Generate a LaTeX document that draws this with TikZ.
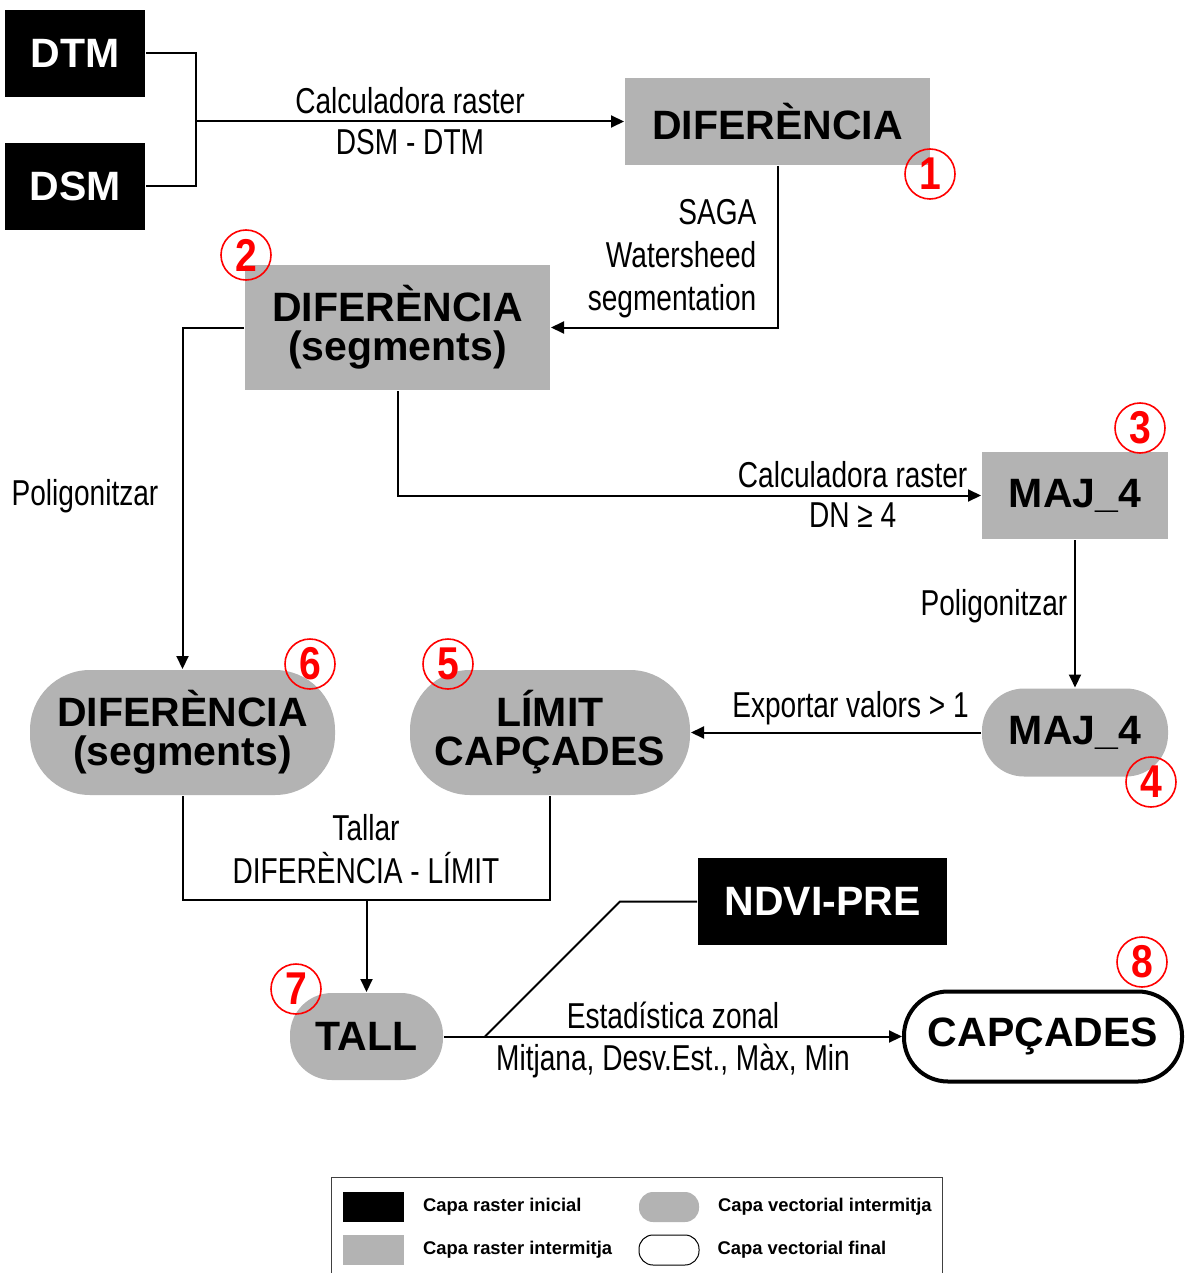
\documentclass[tikz,border=0pt]{standalone}
\usepackage{fontspec}
\setmainfont{Liberation Sans}
\newfontfamily\narrowfont[FakeStretch=0.78]{Liberation Sans}
\newfontfamily\numfont[FakeStretch=0.85]{Liberation Sans}
\usepackage{tikz}
\usetikzlibrary{positioning,calc,arrows.meta}
\definecolor{rastc}{HTML}{B3B3B3}
\definecolor{numc}{HTML}{FF0000}
\newcommand{\stepnum}[3]{%
  \node[draw=numc, line width=0.8pt, circle, minimum size=25pt, inner sep=0pt,
        text=numc, font=\numfont\bfseries\fontsize{23}{23}\selectfont] (n#1) at (#2,#3) {#1};}

\begin{document}
\begin{tikzpicture}[x=0.5pt, y=-0.5pt, line width=1pt,
  big/.style={font=\bfseries\fontsize{20.5}{19.5}\selectfont, align=center, inner sep=0pt},
  inic/.style={big, fill=black, text=white, minimum width=70pt, minimum height=43.5pt},
  mid/.style={big, fill=rastc, minimum height=43.5pt},
  lab/.style={font=\narrowfont\fontsize{18}{21.5}\selectfont},
  leg/.style={font=\bfseries\fontsize{9.2}{11}\selectfont, inner sep=0pt, anchor=west},
  arr/.style={-{Triangle[length=6.5pt,width=6pt]}}]
  \useasboundingbox (0,0) rectangle (1185,1273);
  % raster layers
  \node[inic] (dtm) at (75,53.5) {DTM};
  \node[inic] (dsm) at (75,186.5) {DSM};
  \node[mid, minimum width=152.5pt] (dif1) at (777.5,121.5) {DIFERÈNCIA};
  \node[mid, minimum width=152.5pt, minimum height=62.5pt] (dif2) at (397.5,327.5) {DIFERÈNCIA\\(segments)};
  \node[mid, minimum width=93pt] (maj3) at (1075,495.5) {MAJ\_4};
  \node[inic, minimum width=124.5pt] (ndvi) at (822.5,901.5) {NDVI-PRE};
  % vector layers
  \node[mid, minimum width=93pt, minimum height=44pt, rounded corners=21pt] (maj4) at (1075,732.5) {MAJ\_4};
  \node[mid, minimum width=140pt, minimum height=62.5pt, rounded corners=30pt] (lim5) at (550,732.5) {LÍMIT\\CAPÇADES};
  \node[mid, minimum width=152.5pt, minimum height=62.5pt, rounded corners=30pt] (dif6) at (182.5,732.5) {DIFERÈNCIA\\(segments)};
  \node[mid, minimum width=76.5pt, rounded corners=21pt] (tall7) at (366.5,1036.5) {TALL};
  \node[big, draw, line width=2pt, minimum width=139pt, minimum height=45pt, rounded corners=22pt] (capc8) at (1043,1036.5) {CAPÇADES};
  % steps
  \stepnum{1}{930}{174}
  \stepnum{2}{246}{255}
  \stepnum{3}{1140}{428}
  \stepnum{4}{1151}{782}
  \stepnum{5}{448}{664}
  \stepnum{6}{310}{664}
  \stepnum{7}{296}{989}
  \stepnum{8}{1142}{962}
  % connectors
  \coordinate (jn) at (196,121.5);
  \draw (dtm) -| (jn) |- (dsm);
  \draw[arr] (jn) -- (dif1) node[lab, midway, above] {Calculadora raster} node[lab, midway, below] {DSM - DTM};
  \draw[arr] (dif1) |- (dif2);
  \node[lab, anchor=east, align=right] (saga) at (764,259) {SAGA\\Watersheed\\segmentation};
  \draw[arr] (dif2) -| (dif6);
  \node[lab] (polig1) at (85,496) {Poligonitzar};
  \draw[arr] (dif2) |- (maj3) node[lab, pos=0.89, above] {Calculadora raster} node[lab, pos=0.89, below] {DN ≥ 4};
  \draw[arr] (maj3) -- (maj4) node[lab, pos=0.45, left] {Poligonitzar};
  \draw[arr] (maj4) -- (lim5) node[lab, pos=0.45, above] {Exportar valors > 1};
  \coordinate (cut) at (366.5,900);
  \draw (dif6) |- (cut) -| (lim5);
  \node[lab, align=center] (tlab) at (366,849) {Tallar\\DIFERÈNCIA - LÍMIT};
  \draw[arr] (cut) -- (tall7);
  \draw[arr] (tall7) -- (capc8) node[lab, midway, above] {Estadística zonal} node[lab, midway, below] {Mitjana, Desv.Est., Màx, Min};
  \coordinate (nk) at (620,901.5);
  \coordinate (nj) at (485,1036.5);
  \draw (ndvi) -- (nk) -- (nj);
  % legend
  \draw[line width=0.5pt, black!75] (331,1273) |- (942,1177) -- (942,1273);
  \node[fill=black, minimum width=30.5pt, minimum height=15pt, inner sep=0pt] (lg1) at (373.5,1207) {};
  \node[fill=rastc, minimum width=30.5pt, minimum height=15pt, inner sep=0pt] (lg2) at (373.5,1250) {};
  \node[fill=rastc, minimum width=30pt, minimum height=15pt, inner sep=0pt, rounded corners=7pt] (lg3) at (669,1207) {};
  \node[draw, line width=0.5pt, minimum width=30pt, minimum height=15pt, inner sep=0pt, rounded corners=7pt] (lg4) at (669,1250) {};
  \node[leg, right=8.5pt of lg1] (lt1) {Capa raster inicial};
  \node[leg, right=8.5pt of lg2] (lt2) {Capa raster intermitja};
  \node[leg, right=8.5pt of lg3] (lt3) {Capa vectorial intermitja};
  \node[leg, right=8.5pt of lg4] (lt4) {Capa vectorial final};
\end{tikzpicture}
\end{document}
